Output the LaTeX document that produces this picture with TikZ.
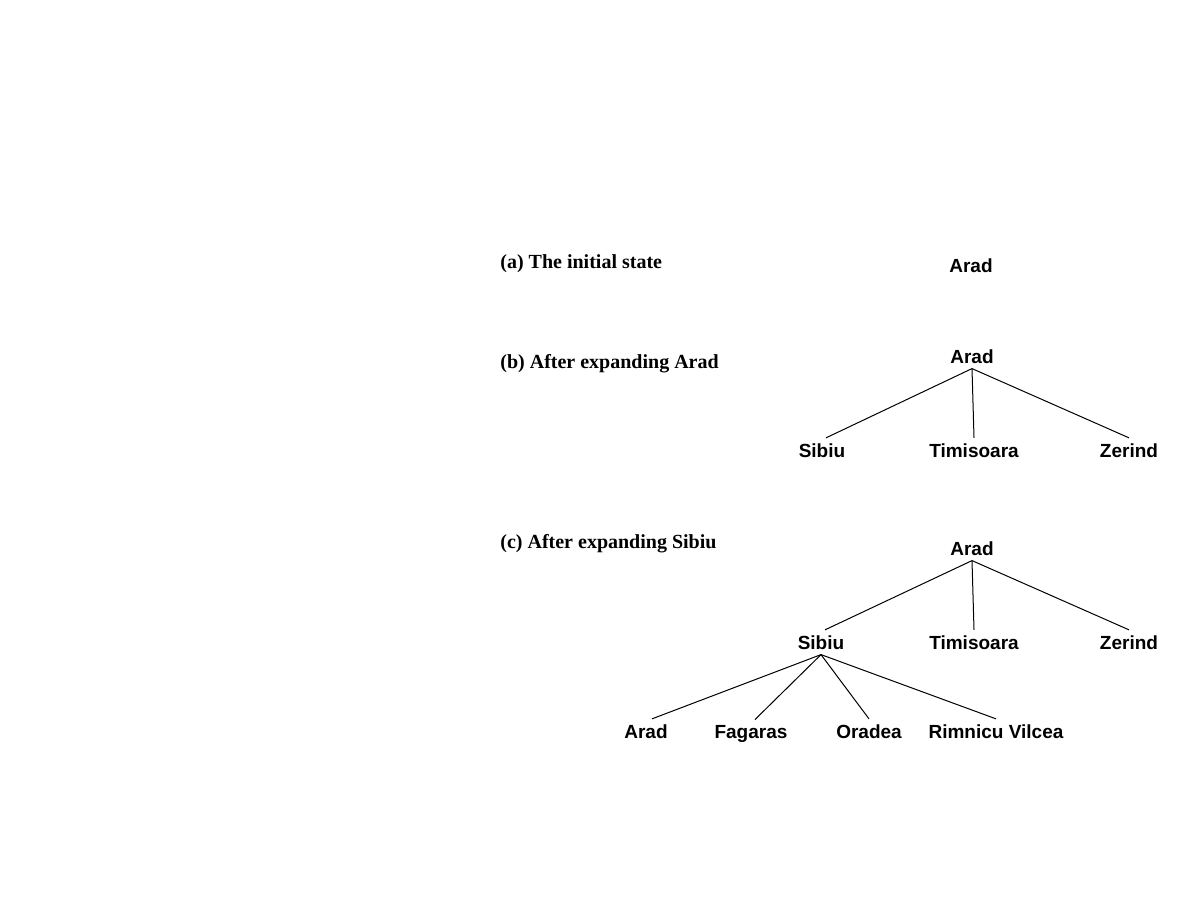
\documentclass[tikz,border=0pt]{standalone}
\usepackage{fontspec}
\setmainfont{Liberation Serif}
\setsansfont{Liberation Sans}
\usetikzlibrary{positioning}

\begin{document}
\begin{tikzpicture}[
    x=0.5pt, y=-0.5pt,
    cidade/.style={anchor=base, inner sep=2.5pt, font=\sffamily\bfseries\fontsize{9.5}{11}\selectfont},
    legenda/.style={anchor=base west, inner sep=0pt, font=\rmfamily\bfseries\fontsize{10}{12}\selectfont},
    ramo/.style={line width=0.5pt, black}
]
\useasboundingbox (0,0) rectangle (1188,918);

% Legendas
\node[legenda] (la) at (500,268) {(a) The initial state};
\node[legenda] (lb) at (500,368) {(b) After expanding Arad};
\node[legenda] (lc) at (500,548) {(c) After expanding Sibiu};

% (a) Estado inicial
\node[cidade] (a0) at (971,272) {Arad};

% (b) Depois de expandir Arad
\node[cidade] (b0) at (972,363) {Arad};
\node[cidade] (b1) at (822,457) {Sibiu};
\node[cidade] (b2) at (974,457) {Timisoara};
\node[cidade] (b3) at (1129,457) {Zerind};

\draw[ramo] (b0.south) -- ([xshift=2pt]b1.north);
\draw[ramo] (b0.south) -- (b2.north);
\draw[ramo] (b0.south) -- (b3.north);

% (c) Depois de expandir Sibiu
\node[cidade] (c0) at (972,555) {Arad};
\node[cidade] (c1) at (821,649) {Sibiu};
\node[cidade] (c2) at (974,649) {Timisoara};
\node[cidade] (c3) at (1129,649) {Zerind};

\node[cidade] (c11) at (646,738) {Arad};
\node[cidade] (c12) at (751,738) {Fagaras};
\node[cidade] (c13) at (869,738) {Oradea};
\node[cidade] (c14) at (996,738) {Rimnicu Vilcea};

\draw[ramo] (c0.south) -- ([xshift=2pt]c1.north);
\draw[ramo] (c0.south) -- (c2.north);
\draw[ramo] (c0.south) -- (c3.north);

\draw[ramo] (c1.south) -- ([xshift=3pt]c11.north);
\draw[ramo] (c1.south) -- ([xshift=2pt]c12.north);
\draw[ramo] (c1.south) -- (c13.north);
\draw[ramo] (c1.south) -- (c14.north);

\end{tikzpicture}
\end{document}
